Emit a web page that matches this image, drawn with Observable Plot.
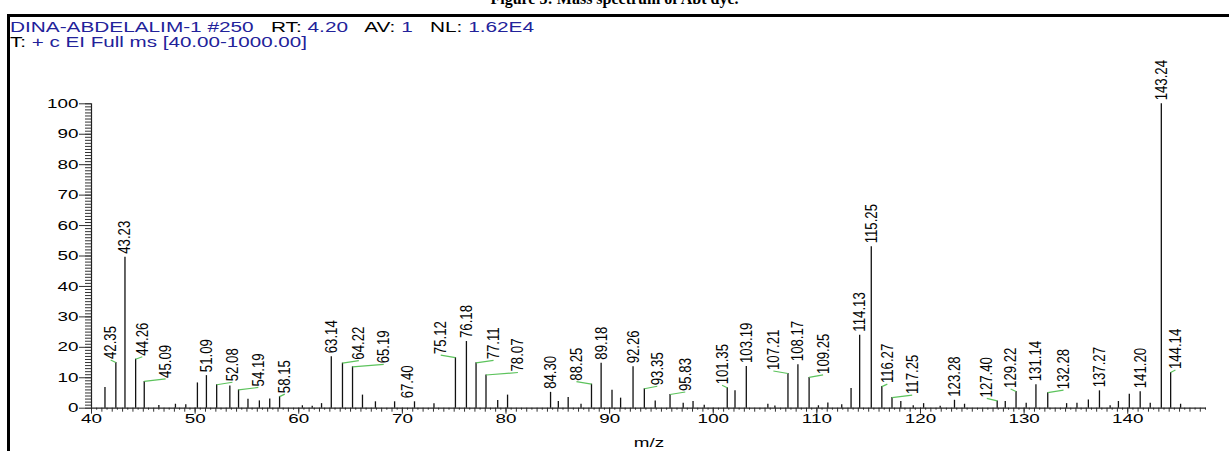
<!DOCTYPE html>
<html><head><meta charset="utf-8">
<script src="https://cdn.jsdelivr.net/npm/d3@7"></script>
<script src="https://cdn.jsdelivr.net/npm/@observablehq/plot@0.6"></script>
<style>
html,body{margin:0;padding:0;background:#fff;}
#wrap{position:relative;width:1229px;height:451px;overflow:hidden;background:#fff;font-family:"Liberation Sans",Arial,sans-serif;}
#title{position:absolute;left:0;width:1229px;top:-9.5px;text-align:center;font:bold 16px/16px "Liberation Serif","Times New Roman",serif;color:#000;white-space:pre;}
#frame{position:absolute;left:7px;top:13.5px;width:1240px;height:460px;border-left:3px solid #000;border-top:3px solid #000;box-sizing:border-box;}
.hdr{position:absolute;left:10px;font-size:14px;line-height:14px;white-space:pre;transform-origin:0 0;color:#000;}
.b{color:#22229a;}
#chart{position:absolute;left:0;top:0;}
</style></head>
<body>
<div id="wrap">
  <div id="title"></div>
  <div id="frame"></div>
  <div id="h1" class="hdr" style="top:19.5px"></div>
  <div id="h2" class="hdr" style="top:35px"></div>
  <div id="chart"></div>
</div>
<script>
// ---------- data ----------
const titleText = "Figure 5: Mass spectrum of Abt dye.";
const header1 = [["DINA-ABDELALIM-1 #250", true], ["   RT: ", false], ["4.20", true], ["   AV: ", false], ["1", true], ["   NL: ", false], ["1.62E4", true]];
const header2 = [["T: ", false], ["+ c EI Full ms [40.00-1000.00]", true]];
const xLabel = "m/z";

const peakMz = [41.30, 42.35, 43.23, 44.26, 45.09, 46.5, 48.1, 49.1, 50.22, 51.09, 52.08, 53.35, 54.19, 55.1, 56.2, 57.2, 58.15,
  60.35, 61.3, 62.2, 63.14, 64.22, 65.19, 66.15, 67.40, 69.25, 71.17, 73.05, 75.12, 76.18, 77.11, 78.07, 79.2, 80.15,
  84.30, 85.05, 86.0, 87.24, 88.25, 89.18, 90.23, 91.06, 92.26, 93.35, 94.4, 95.83, 97.1, 98.05, 99.13,
  101.35, 102.1, 103.19, 105.27, 105.95, 107.21, 108.17, 109.25, 110.15, 111.06, 112.4, 113.3, 114.13, 115.25,
  116.27, 117.25, 118.1, 119.3, 120.3, 121.9, 123.28, 124.25, 127.40, 128.18, 129.22, 130.2, 131.14, 132.28,
  134.1, 135.1, 136.2, 137.27, 138.3, 139.1, 140.15, 141.20, 142.17, 143.24, 144.14, 145.1];
const peakInt = [6.8, 15.0, 49.6, 16.1, 8.8, 0.9, 1.3, 1.1, 8.3, 10.7, 7.7, 7.3, 6.0, 2.9, 2.4, 3.0, 3.8,
  0.8, 0.6, 1.5, 16.9, 14.8, 13.6, 4.3, 2.1, 2.1, 2.1, 1.5, 16.6, 21.9, 14.9, 10.9, 2.5, 4.3,
  5.2, 2.2, 3.5, 1.3, 7.9, 14.8, 5.9, 3.3, 13.6, 6.4, 2.4, 4.5, 1.6, 2.2, 1.0,
  6.7, 5.7, 13.7, 1.3, 0.7, 11.4, 14.3, 10.1, 0.8, 1.7, 1.1, 6.5, 24.0, 53.0,
  7.1, 3.5, 2.2, 0.8, 1.5, 0.6, 2.6, 1.3, 2.4, 2.2, 5.5, 1.6, 7.7, 5.1,
  1.5, 1.6, 2.7, 5.7, 0.8, 2.2, 4.6, 5.4, 1.6, 100, 11.7, 1.3];

// labelled peaks and the m/z at which each label is written
const labelValues = [42.35, 43.23, 44.26, 45.09, 51.09, 52.08, 54.19, 58.15, 63.14, 64.22, 65.19, 67.40, 75.12, 76.18, 77.11, 78.07,
  84.30, 88.25, 89.18, 92.26, 93.35, 95.83, 101.35, 103.19, 107.21, 108.17, 109.25, 114.13, 115.25, 116.27, 117.25,
  123.28, 127.40, 129.22, 131.14, 132.28, 137.27, 141.20, 143.24, 144.14];
const labelAt = [41.85, 43.23, 44.9, 47.15, 51.09, 53.6, 56.1, 58.65, 63.14, 65.8, 68.2, 70.45, 73.7, 76.18, 78.8, 81.15,
  84.30, 86.8, 89.18, 92.26, 94.6, 97.3, 100.85, 103.19, 105.8, 108.17, 110.6, 114.13, 115.25, 116.8, 119.2,
  123.28, 126.4, 128.7, 131.14, 133.8, 137.27, 141.20, 143.24, 144.6];
const withoutLeader = [67.40];

const yMajor = d3.range(0, 101, 10);
const yMinor = d3.range(0, 101, 1);
const xMajor = d3.range(40, 141, 10);
const xMinor = d3.range(40, 148, 1);
const xHalf = d3.range(40.5, 148, 1);
const xDomain = [40, 147.6];
const yDomain = [0, 100];

// ---------- header ----------
function fill(el, parts) {
  for (const [t, blue] of parts) {
    const s = document.createElement("span");
    s.textContent = t;
    if (blue) s.className = "b";
    el.appendChild(s);
  }
}
document.getElementById("title").textContent = titleText;
const h1 = document.getElementById("h1"), h2 = document.getElementById("h2");
fill(h1, header1); fill(h2, header2);
h1.style.transform = `scaleX(${524 / h1.getBoundingClientRect().width})`;
h2.style.transform = `scaleX(${297 / h2.getBoundingClientRect().width})`;

// ---------- chart ----------
const W = 1229, H = 451, mT = 103.3, mB = 43.3, mL = 91, mR = 23;
const pxPerUnit = (H - mT - mB) / (yDomain[1] - yDomain[0]);
const peaks = peakMz.map((mz, i) => ({mz, int: peakInt[i]}));
const labels = labelValues.map((v, i) => ({mz: v, int: peakInt[peakMz.indexOf(v)], at: labelAt[i], text: v.toFixed(2)}));
const leaders = labels.filter(d => Math.abs(d.at - d.mz) > 0.25 && !withoutLeader.includes(d.mz));
const rise = 2.5 / pxPerUnit;
const noText = () => "";

// distinct near-black fills let the lettering be found again after rendering
const F_Y = "#010101", F_X = "#020202", F_T = "#030303", F_P = "#040404";

const chart = Plot.plot({
  width: W, height: H,
  marginTop: mT, marginBottom: mB, marginLeft: mL, marginRight: mR,
  style: {fontFamily: '"Liberation Sans", Arial, sans-serif', background: "transparent", overflow: "visible"},
  x: {domain: xDomain},
  y: {domain: yDomain},
  marks: [
    Plot.axisY({ticks: yMinor, tickSize: 6, tickFormat: noText, label: null, stroke: "#333"}),
    Plot.axisY({ticks: yMajor, tickSize: 12, tickPadding: 1, fontSize: 13, label: null, stroke: "#333", fill: F_Y}),
    Plot.axisX({ticks: xHalf, tickSize: 2, tickFormat: noText, label: null, stroke: "#333"}),
    Plot.axisX({ticks: xMinor, tickSize: 4, tickFormat: noText, label: null, stroke: "#333"}),
    Plot.axisX({ticks: xMajor, tickSize: 6, tickPadding: 0, fontSize: 13, label: null, stroke: "#333", fill: F_X}),
    Plot.ruleY([0], {stroke: "#222", strokeWidth: 1.2}),
    Plot.ruleX([xDomain[0]], {y1: yDomain[0], y2: yDomain[1], stroke: "#222", strokeWidth: 1.2}),
    Plot.ruleX(peaks, {x: "mz", y1: 0, y2: "int", stroke: "#111", strokeWidth: 1.3}),
    Plot.link(leaders, {x1: "mz", y1: "int", x2: "at", y2: d => d.int + rise, stroke: "#5cc35c", strokeWidth: 1.2}),
    Plot.text(labels, {x: "at", y: "int", text: "text", rotate: -90, textAnchor: "start", lineAnchor: "middle",
      dy: -3.5, fontSize: 13.2, fill: F_P}),
    Plot.text([xLabel], {frameAnchor: "bottom", text: d => d, dy: 39, lineAnchor: "bottom", fontSize: 13, fill: F_T})
  ]
});
document.getElementById("chart").appendChild(chart);

// horizontal stretch of the instrument-style lettering
function stretchTexts(fillColor, sx, sy) {
  chart.querySelectorAll("text").forEach(el => {
    const g = el.closest("[fill]");
    const f = el.getAttribute("fill") || (g && g.getAttribute("fill"));
    if (!f || f.toLowerCase() !== fillColor) return;
    const t = el.getAttribute("transform");
    if (t) el.setAttribute("transform", `${t} scale(${sx},${sy})`);
    else {
      const x = +el.getAttribute("x") || 0, y = +el.getAttribute("y") || 0;
      el.removeAttribute("x"); el.removeAttribute("y");
      el.setAttribute("transform", `translate(${x},${y}) scale(${sx},${sy})`);
    }
  });
}
stretchTexts(F_Y, 1.45, 1);
stretchTexts(F_X, 1.45, 1);
stretchTexts(F_T, 1.45, 1);
stretchTexts(F_P, 1, 1.3);
</script>
</body></html>
